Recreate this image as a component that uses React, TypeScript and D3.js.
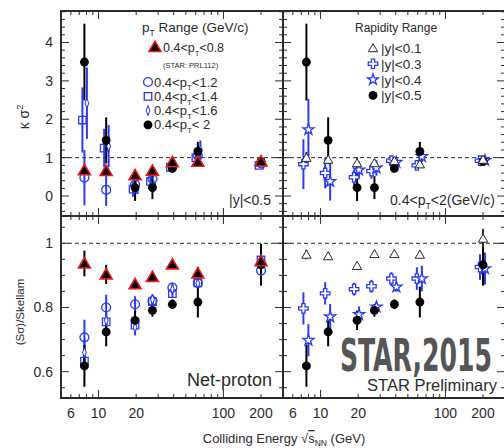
import React from 'react';
import * as d3 from 'd3';

// collision energies (GeV)
const energies = [7.7, 11.5, 19.6, 27, 39, 62.4, 200];

// kappa*sigma^2, pT ranges (|y|<0.5)
const kapPt08 = [0.67, 0.65, 0.54, 0.66, 0.88, 0.89, 0.9];
const kapPt08Err = [0.05, 0.05, 0.04, 0.04, 0.05, 0.08, 0.04];
const kapPt12 = [0.48, 0.16, 0.3, 0.45, 0.78, 1.05, 0.85];
const kapPt12Err = [0.72, 0.42, 0.2, 0.15, 0.08, 0.15, 0.04];
const kapPt14 = [1.98, 1.25, 0.18, 0.38, 0.75, 1.0, 0.8];
const kapPt14Err = [0.85, 0.5, 0.2, 0.15, 0.08, 0.2, 0.04];
const kapPt16 = [2.42, 1.3, 0.3, 0.45, 0.8, 1.2, 0.85];
const kapPt16Err = [0.93, 0.55, 0.25, 0.18, 0.08, 0.25, 0.04];
const kapPt20 = [3.49, 1.45, 0.22, 0.22, 0.72, 1.16, 0.9];
const kapPt20Err = [1.0, 0.6, 0.35, 0.3, 0.1, 0.25, 0.05];

// kappa*sigma^2, rapidity ranges (0.4<pT<2)
const kapY01 = [1.0, 0.95, 0.86, 0.86, 0.92, 0.83, 0.95];
const kapY01Err = [0.15, 0.12, 0.15, 0.1, 0.05, 0.1, 0.05];
const kapY03 = [0.83, 0.6, 0.49, 0.65, 0.92, 0.8, 0.92];
const kapY03Err = [0.65, 0.4, 0.2, 0.2, 0.07, 0.1, 0.04];
const kapY04 = [1.73, 0.38, 0.68, 0.73, 0.88, 1.03, 0.93];
const kapY04Err = [0.8, 0.5, 0.22, 0.2, 0.08, 0.15, 0.04];

// S*sigma / Skellam, pT ranges
const ssPt08 = [0.937, 0.903, 0.872, 0.895, 0.934, 0.906, 0.944];
const ssPt08Err = [0.04, 0.03, 0.015, 0.01, 0.01, 0.02, 0.05];
const ssPt12 = [0.707, 0.8, 0.81, 0.82, 0.862, 0.876, 0.915];
const ssPt12Err = [0.055, 0.04, 0.025, 0.02, 0.015, 0.02, 0.04];
const ssPt14 = [0.633, 0.755, 0.745, 0.818, 0.843, 0.877, 0.948];
const ssPt14Err = [0.03, 0.025, 0.02, 0.015, 0.012, 0.015, 0.03];
const ssPt16 = [0.66, 0.76, 0.738, 0.825, 0.857, 0.875, 0.945];
const ssPt16Err = [0.04, 0.03, 0.025, 0.015, 0.012, 0.015, 0.03];
const ssPt20 = [0.618, 0.724, 0.76, 0.791, 0.81, 0.817, 0.933];
const ssPt20Err = [0.065, 0.045, 0.03, 0.02, 0.015, 0.048, 0.065];

// S*sigma / Skellam, rapidity ranges
const ssY01 = [0.965, 0.96, 0.93, 0.967, 0.967, 0.965, 1.015];
const ssY01Err = [0.015, 0.012, 0.01, 0.01, 0.01, 0.012, 0.03];
const ssY03 = [0.797, 0.844, 0.857, 0.866, 0.89, 0.89, 0.926];
const ssY03Err = [0.05, 0.035, 0.02, 0.02, 0.02, 0.035, 0.04];
const ssY04 = [0.698, 0.771, 0.778, 0.802, 0.864, 0.89, 0.921];
const ssY04Err = [0.05, 0.04, 0.025, 0.015, 0.015, 0.04, 0.05];

const xTickLabels = [6, 10, 20, 100, 200];
const xMajor = [10, 100];
const xMinor = [6, 7, 8, 9, 20, 30, 40, 50, 60, 70, 80, 90, 200];
const kapTicks = [0, 1, 2, 3, 4];
const ssTicks = [0.6, 0.8, 1];

const BLUE = '#2b3cf0';
const RED = '#e81a1a';
const INK = '#2b2b2b';
const FONT = '"Liberation Sans", Arial, sans-serif';

const W = 504;
const H = 448;
const colX = [[61, 283], [283, 505]];
const rowY = [[11, 216], [216, 398]];

const yKap = d3.scaleLinear().domain([-0.52, 4.82]).range([rowY[0][1], rowY[0][0]]);
const ySs = d3.scaleLinear().domain([0.518, 1.085]).range([rowY[1][1], rowY[1][0]]);

type Marker = 'tri' | 'circle' | 'square' | 'diamond' | 'dot' | 'opentri' | 'cross' | 'star';

const sym = (type: Marker) => {
  switch (type) {
    case 'tri': return d3.symbol(d3.symbolTriangle, 62)();
    case 'opentri': return d3.symbol(d3.symbolTriangle, 38)();
    case 'circle': return d3.symbol(d3.symbolCircle, 62)();
    case 'dot': return d3.symbol(d3.symbolCircle, 62)();
    case 'square': return d3.symbol(d3.symbolSquare, 56)();
    case 'diamond': return d3.symbol(d3.symbolDiamond, 26)();
    case 'cross': return d3.symbol(d3.symbolCross, 50)();
    case 'star': return d3.symbol(d3.symbolStar, 38)();
  }
};

const MarkerShape = ({ type, x, y }: { type: Marker; x: number; y: number }) => {
  const d = sym(type) as string;
  if (type === 'tri') {
    return <path d={d} transform={`translate(${x},${y + 1})`} fill="#000" stroke={RED} strokeWidth={1.6} />;
  }
  if (type === 'dot') return <path d={d} transform={`translate(${x},${y})`} fill="#000" />;
  if (type === 'opentri') {
    return <path d={d} transform={`translate(${x},${y + 1})`} fill="#fff" stroke={INK} strokeWidth={1} />;
  }
  const tr = type === 'diamond' ? `translate(${x},${y}) scale(0.7,1)` : `translate(${x},${y})`;
  return <path d={d} transform={tr} fill="#fff" fillOpacity={type === 'circle' || type === 'square' ? 0 : 1} stroke={BLUE} strokeWidth={1.3} />;
};

type Series = { values: number[]; errors: number[]; marker: Marker; color: string; dx: number };

const kapPtSeries: Series[] = [
  { values: kapPt12, errors: kapPt12Err, marker: 'circle', color: BLUE, dx: 0 },
  { values: kapPt14, errors: kapPt14Err, marker: 'square', color: BLUE, dx: -2 },
  { values: kapPt16, errors: kapPt16Err, marker: 'diamond', color: BLUE, dx: 2.5 },
  { values: kapPt20, errors: kapPt20Err, marker: 'dot', color: '#000', dx: 0 },
  { values: kapPt08, errors: kapPt08Err, marker: 'tri', color: '#000', dx: 0 },
];
const kapYSeries: Series[] = [
  { values: kapY03, errors: kapY03Err, marker: 'cross', color: BLUE, dx: -3 },
  { values: kapY04, errors: kapY04Err, marker: 'star', color: BLUE, dx: 2 },
  { values: kapPt20, errors: kapPt20Err, marker: 'dot', color: '#000', dx: 0 },
  { values: kapY01, errors: kapY01Err, marker: 'opentri', color: INK, dx: 0 },
];
const ssPtSeries: Series[] = [
  { values: ssPt12, errors: ssPt12Err, marker: 'circle', color: BLUE, dx: 0 },
  { values: ssPt14, errors: ssPt14Err, marker: 'square', color: BLUE, dx: 0 },
  { values: ssPt16, errors: ssPt16Err, marker: 'diamond', color: BLUE, dx: 0 },
  { values: ssPt20, errors: ssPt20Err, marker: 'dot', color: '#000', dx: 0 },
  { values: ssPt08, errors: ssPt08Err, marker: 'tri', color: '#000', dx: 0 },
];
const ssYSeries: Series[] = [
  { values: ssY03, errors: ssY03Err, marker: 'cross', color: BLUE, dx: -3 },
  { values: ssY04, errors: ssY04Err, marker: 'star', color: BLUE, dx: 2 },
  { values: ssPt20, errors: ssPt20Err, marker: 'dot', color: '#000', dx: 0 },
  { values: ssY01, errors: ssY01Err, marker: 'opentri', color: INK, dx: 0 },
];

const Panel = ({ col, row, y, series, major, minor, leftLabels, bottomLabels }: {
  col: number; row: number; y: d3.ScaleLinear<number, number>; series: Series[];
  major: number[]; minor: number[]; leftLabels: boolean; bottomLabels: boolean;
}) => {
  const [x0, x1] = colX[col];
  const [y0, y1] = rowY[row];
  const x = d3.scaleLog().domain([5, 300]).range([x0, x1]);
  return (
    <g>
      {/* reference line */}
      <line x1={x0} x2={x1} y1={y(1)} y2={y(1)} stroke={INK} strokeWidth={1} strokeDasharray="4,3" />
      {/* x ticks top and bottom */}
      {[...xMajor.map((v) => [v, 8]), ...xMinor.map((v) => [v, 4])].map(([v, l], i) => (
        <g key={`xt${i}`} stroke={INK} strokeWidth={1}>
          <line x1={x(v)} x2={x(v)} y1={y1} y2={y1 - l} />
          <line x1={x(v)} x2={x(v)} y1={y0} y2={y0 + l} />
        </g>
      ))}
      {/* y ticks left and right */}
      {[...major.map((v) => [v, 8]), ...minor.map((v) => [v, 4])].map(([v, l], i) => (
        <g key={`yt${i}`} stroke={INK} strokeWidth={1}>
          <line x1={x0} x2={x0 + l} y1={y(v)} y2={y(v)} />
          <line x1={x1} x2={x1 - l} y1={y(v)} y2={y(v)} />
        </g>
      ))}
      {leftLabels && major.map((v) => (
        <text key={`yl${v}`} x={x0 - 8} y={y(v) + 5} textAnchor="end" fontSize={14} fill={INK} fontFamily={FONT}>{v}</text>
      ))}
      {bottomLabels && xTickLabels.map((v) => (
        <text key={`xl${v}`} x={x(v)} y={y1 + 20} textAnchor="middle" fontSize={14} fill={INK} fontFamily={FONT}>{v}</text>
      ))}
      {/* error bars */}
      {series.map((s, si) => s.values.map((v, i) => (
        <line key={`e${si}-${i}`} x1={x(energies[i]) + s.dx} x2={x(energies[i]) + s.dx}
          y1={Math.max(y(v + s.errors[i]), y0)} y2={Math.min(y(v - s.errors[i]), y1)}
          stroke={s.color} strokeWidth={2} />
      )))}
      {series.map((s, si) => s.values.map((v, i) => (
        <MarkerShape key={`m${si}-${i}`} type={s.marker} x={x(energies[i]) + s.dx} y={y(v)} />
      )))}
    </g>
  );
};

const PtLabel = ({ x, y, pre, post, size, anchor = 'start' }: { x: number; y: number; pre: string; post: string; size: number; anchor?: string }) => (
  <text x={x} y={y} fontSize={size} fill={INK} fontFamily={FONT} textAnchor={anchor}>
    {pre}p<tspan fontSize={size * 0.62} dy={size * 0.3}>T</tspan><tspan dy={-size * 0.3}>{post}</tspan>
  </text>
);

export default function App() {
  const kapMinor = d3.range(-0.4, 4.81, 0.2).filter((v) => Math.abs(v - Math.round(v)) > 0.01);
  const ssMinor = d3.range(0.55, 1.081, 0.05).filter((v) => Math.abs(v * 5 - Math.round(v * 5)) > 0.01);
  const legPt: { marker: Marker; pre: string; post: string }[] = [
    { marker: 'circle', pre: '0.4<', post: '<1.2' },
    { marker: 'square', pre: '0.4<', post: '<1.4' },
    { marker: 'diamond', pre: '0.4<', post: '<1.6' },
    { marker: 'dot', pre: '0.4<', post: '< 2' },
  ];
  const legY: { marker: Marker; label: string }[] = [
    { marker: 'opentri', label: '|y|<0.1' },
    { marker: 'cross', label: '|y|<0.3' },
    { marker: 'star', label: '|y|<0.4' },
    { marker: 'dot', label: '|y|<0.5' },
  ];
  return (
    <svg width={W} height={H} style={{ position: 'absolute', left: 0, top: 0 }}>
      <rect width={W} height={H} fill="#fff" />
      <Panel col={0} row={0} y={yKap} series={kapPtSeries} major={kapTicks} minor={kapMinor} leftLabels bottomLabels={false} />
      <Panel col={1} row={0} y={yKap} series={kapYSeries} major={kapTicks} minor={kapMinor} leftLabels={false} bottomLabels={false} />
      <Panel col={0} row={1} y={ySs} series={ssPtSeries} major={ssTicks} minor={ssMinor} leftLabels bottomLabels />
      <Panel col={1} row={1} y={ySs} series={ssYSeries} major={ssTicks} minor={ssMinor} leftLabels={false} bottomLabels />

      {/* frames */}
      <g fill="none" stroke={INK} strokeWidth={2}>
        <rect x={colX[0][0]} y={rowY[0][0]} width={colX[1][1] - colX[0][0]} height={rowY[1][1] - rowY[0][0]} />
        <line x1={colX[0][0]} x2={colX[1][1]} y1={rowY[0][1]} y2={rowY[0][1]} />
        <line x1={colX[0][1]} x2={colX[0][1]} y1={rowY[0][0]} y2={rowY[1][1]} />
      </g>

      {/* top-left legend */}
      <PtLabel x={142} y={32} pre="" post=" Range (GeV/c)" size={13.5} />
      <MarkerShape type="tri" x={155} y={47} />
      <PtLabel x={163} y={52} pre="0.4<" post="<0.8" size={12.5} />
      <text x={163} y={68} fontSize={7.5} fill={INK} fontFamily={FONT}>(STAR: PRL112)</text>
      {legPt.map((l, i) => (
        <g key={l.post}>
          <MarkerShape type={l.marker} x={148} y={82 + i * 14.3} />
          <PtLabel x={154} y={86.5 + i * 14.3} pre={l.pre} post={l.post} size={13} />
        </g>
      ))}

      {/* top-right legend */}
      <text x={355} y={32} fontSize={12} fill={INK} fontFamily={FONT}>Rapidity Range</text>
      {legY.map((l, i) => (
        <g key={l.label}>
          <MarkerShape type={l.marker} x={373} y={48 + i * 15.8} />
          <text x={381} y={53 + i * 15.8} fontSize={13.5} fill={INK} fontFamily={FONT}>{l.label}</text>
        </g>
      ))}

      {/* panel notes */}
      <text x={271} y={205} fontSize={14} textAnchor="end" fill={INK} fontFamily={FONT}>|y|&lt;0.5</text>
      <PtLabel x={495} y={205} pre="0.4<" post="<2(GeV/c)" size={14} anchor="end" />
      <text x={272} y={386} fontSize={18} textAnchor="end" fill={INK} fontFamily={FONT}>Net-proton</text>
      <text x={340} y={371} fontSize={44} fontWeight="bold" fill="#555" fontFamily='"DejaVu Sans Condensed", "DejaVu Sans", sans-serif'
        textLength={152} lengthAdjust="spacingAndGlyphs">STAR,2015</text>
      <text x={497} y={391} fontSize={16.5} textAnchor="end" fill={INK} fontFamily={FONT}>STAR Preliminary</text>

      {/* axis titles */}
      <text transform="translate(29,117) rotate(-90)" fontSize={14} textAnchor="middle" fill={INK} fontFamily={FONT}>
        κ σ<tspan fontSize={9} dy={-6}>2</tspan>
      </text>
      <text transform="translate(24,312) rotate(-90)" fontSize={11.5} textAnchor="middle" fill={INK} fontFamily={FONT}>(Sσ)/Skellam</text>
      <text x={284} y={443} fontSize={13} textAnchor="middle" fill={INK} fontFamily={FONT}>
        Colliding Energy √<tspan textDecoration="overline">s</tspan><tspan fontSize={8.5} dy={3}>NN</tspan><tspan dy={-3}> (GeV)</tspan>
      </text>
    </svg>
  );
}
